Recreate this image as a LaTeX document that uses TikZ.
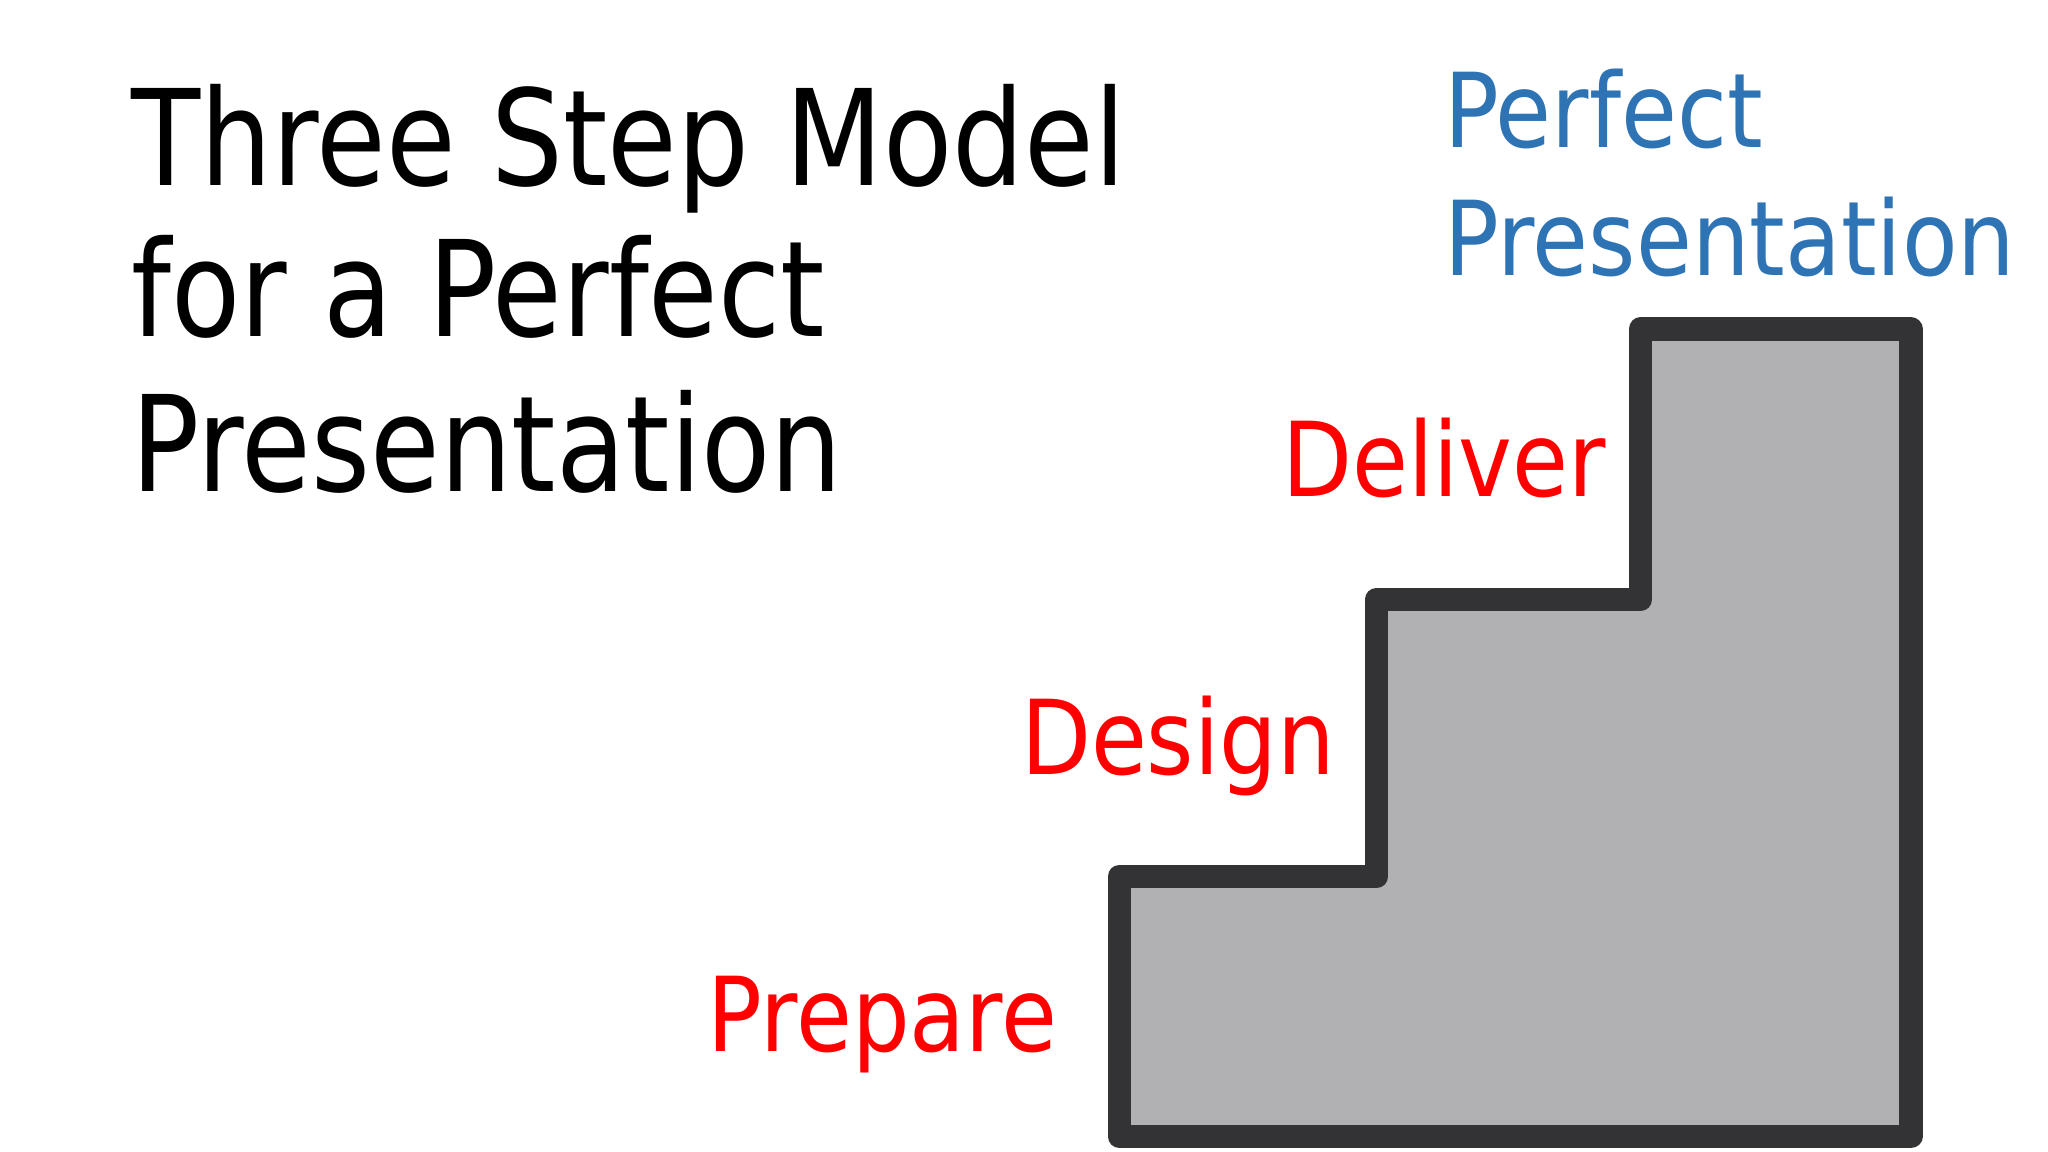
\documentclass[tikz,border=0pt]{standalone}
\usepackage{fontspec}
\usepackage{graphicx}
\setmainfont{DejaVu Sans}
\definecolor{stairfill}{HTML}{B1B0B2}
\definecolor{stairline}{HTML}{333335}
\definecolor{pblue}{HTML}{2E74B5}
\definecolor{pred}{HTML}{FF0000}
\newcommand{\tsq}[1]{\scalebox{0.85}[1]{#1}}
\newcommand{\lsq}[1]{\scalebox{0.88}[1]{#1}}
\begin{document}
\begin{tikzpicture}[x=0.01cm,y=-0.01cm,
  title/.style={anchor=base west,inner sep=0pt,font=\fontsize{29}{35}\selectfont},
  steplabel/.style={anchor=base west,inner sep=0pt,text=pred,font=\fontsize{22.5}{27}\selectfont},
  goal/.style={anchor=base west,inner sep=0pt,text=pblue,font=\fontsize{22.5}{27}\selectfont}]
\useasboundingbox (0,0) rectangle (1568,882);
\draw[fill=stairfill,draw=stairline,line width=0.18cm,line join=round]
  (857,870) -- (857,671) -- (1054,671) -- (1054,459) -- (1256,459) -- (1256,252) -- (1463,252) -- (1463,870) -- cycle;
\node[title] (t1) at (100,142) {\tsq{Three Step Model}};
\node[title] (t2) at (100,258) {\tsq{for a Perfect}};
\node[title] (t3) at (100,376) {\tsq{Presentation}};
\node[steplabel] (prep) at (541,805) {\lsq{Prepare}};
\node[steplabel] (des) at (781,593) {\lsq{Design}};
\node[steplabel] (del) at (981,380) {\lsq{Deliver}};
\node[goal] (g1) at (1105,113) {\lsq{Perfect}};
\node[goal] (g2) at (1105,211) {\lsq{Presentation}};
\end{tikzpicture}
\end{document}
